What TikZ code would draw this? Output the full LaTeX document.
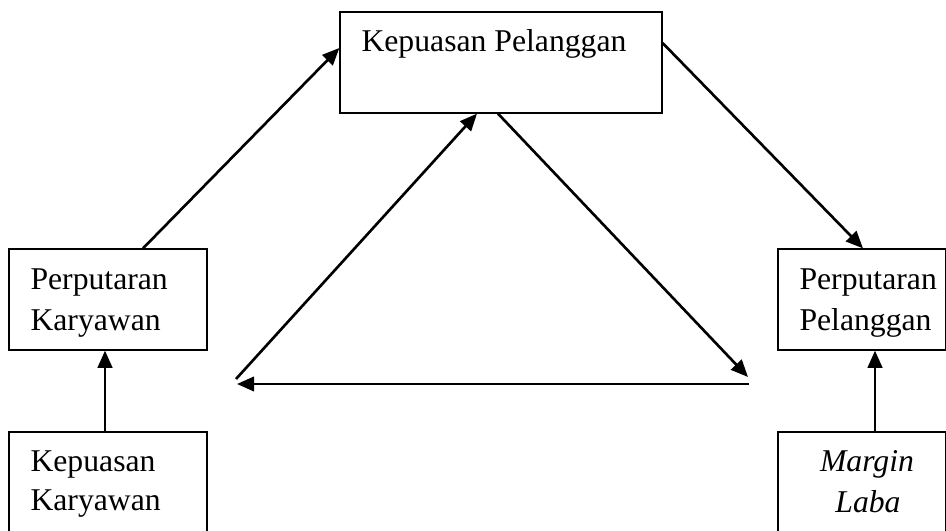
\documentclass[tikz,border=0pt]{standalone}
\usepackage{fontspec}
\setmainfont{Liberation Serif}
\usetikzlibrary{arrows.meta,calc}

\begin{document}
\begin{tikzpicture}[x=0.0133cm, y=-0.0133cm,
    kotak/.style={draw, line width=0.5pt, fill=white, inner sep=0pt},
    teks/.style={anchor=base west, inner sep=0pt, font=\fontsize{12}{15}\selectfont},
    panah/.style={-{Triangle[length=6.5pt,width=5.5pt]}, line width=1pt}]
    \clip (0,0) rectangle (946,531);
    \fill[white] (0,0) rectangle (946,531);

    \node[kotak, minimum width=4.283cm, minimum height=1.343cm] (kp) at (501,62.5) {};
    \node[kotak, minimum width=2.633cm, minimum height=1.343cm] (lk) at (108,299.5) {};
    \node[kotak, minimum width=2.234cm, minimum height=1.343cm] (rp) at (862,299.5) {};
    \node[kotak, minimum width=2.633cm, minimum height=1.436cm] (kk) at (108,486) {};
    \node[kotak, minimum width=2.234cm, minimum height=1.436cm] (ml) at (862,486) {};

    \node[teks] (tkp) at (361,52) {Kepuasan Pelanggan};
    \node[teks] (tlk1) at (30,289) {Perputaran};
    \node[teks] (tlk2) at (30,330) {Karyawan};
    \node[teks] (trp1) at (799,289) {Perputaran};
    \node[teks] (trp2) at (799,330) {Pelanggan};
    \node[teks] (tkk1) at (30,471) {Kepuasan};
    \node[teks] (tkk2) at (30,510) {Karyawan};
    \node[teks, anchor=base, font=\fontsize{12}{15}\selectfont\itshape] (tml1) at (867,471) {Margin};
    \node[teks, anchor=base, font=\fontsize{12}{15}\selectfont\itshape] (tml2) at (868,512) {Laba};

    \draw[panah] ($(lk.north)+(35,0)$) -- ($(kp.west)+(0,-14.5)$);
    \draw[panah] ($(kp.east)+(0,-19.5)$) -- ($(rp.north)+(1,0)$);
    \draw[panah] ($(kk.north)+(-3,0)$) -- ($(lk.south)+(-3,0)$);
    \draw[panah] ($(ml.north)+(13,0)$) -- ($(rp.south)+(13,0)$);

    % segitiga di tengah
    \coordinate (ki) at (236,381);
    \coordinate (ka) at (749,381);
    \draw[panah] ($(ki)+(0,-2)$) -- ($(kp.south)+(-24,0)$);
    \draw[panah] ($(kp.south)+(-3,0)$) -- ($(ka)+(-1,-4)$);
    \draw[panah] ($(ka)+(0,3)$) -- ($(ki)+(1,3)$);
\end{tikzpicture}
\end{document}
